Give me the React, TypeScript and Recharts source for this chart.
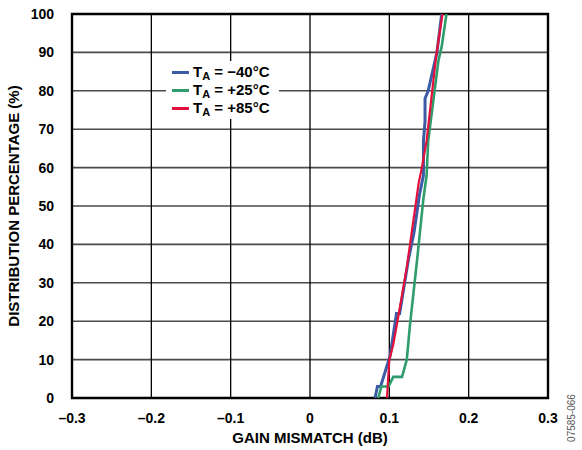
import { CartesianGrid, Line, LineChart, ReferenceArea, XAxis, YAxis } from "recharts";

// gain mismatch (dB) vs cumulative distribution (%)
const minus40X = [0.082, 0.085, 0.089, 0.101, 0.109, 0.113, 0.124, 0.128, 0.131, 0.138, 0.143, 0.143, 0.145, 0.145, 0.149, 0.16, 0.166];
const minus40Y = [0, 3, 3, 11, 22, 22, 36, 40, 43, 53, 58, 67, 72, 78, 80, 90, 100];
const plus25X = [0.086, 0.09, 0.099, 0.105, 0.116, 0.122, 0.126, 0.135, 0.143, 0.147, 0.149, 0.162, 0.166, 0.172];
const plus25Y = [0, 3, 3, 5.5, 5.5, 10, 19, 36, 52, 58, 67, 88, 91.5, 100];
const plus85X = [0.097, 0.1, 0.105, 0.112, 0.122, 0.137, 0.141, 0.147, 0.159, 0.167];
const plus85Y = [0, 10, 14, 22, 34, 56, 60, 67, 89, 100];

const xTicks = [-0.3, -0.2, -0.1, 0, 0.1, 0.2, 0.3];
const yTicks = [0, 10, 20, 30, 40, 50, 60, 70, 80, 90, 100];

const series = [
  { name: "\u221240\u00b0C", color: "#3b5ba5", width: 3, xs: minus40X, ys: minus40Y },
  { name: "+25\u00b0C", color: "#2f9c6c", width: 2.6, xs: plus25X, ys: plus25Y },
  { name: "+85\u00b0C", color: "#e3103c", width: 2.2, xs: plus85X, ys: plus85Y },
];

const font = "'Liberation Sans', Arial, sans-serif";
const tickStyle = { fontFamily: font, fontSize: 14, fontWeight: 700, fill: "#000" };
const titleStyle = { ...tickStyle, fontSize: 15 };

function toPoints(xs: number[], ys: number[]) {
  return xs.map((x, i) => ({ x, y: ys[i] }));
}

function fmtX(v: number) {
  if (v === 0) return "0";
  return v < 0 ? "\u2013" + Math.abs(v).toFixed(1) : v.toFixed(1);
}

export default function App() {
  return (
    <div style={{ position: "absolute", left: 0, top: 0, width: 582, height: 450, background: "#fff", fontFamily: font }}>
      <LineChart width={582} height={450} margin={{ top: 14, right: 34, bottom: 0, left: 0 }}>
        <CartesianGrid stroke="#4a4a4a" strokeWidth={1.6} vertical={false} />
        <CartesianGrid stroke="#000" strokeWidth={1.3} horizontal={false} />
        <XAxis
          type="number"
          dataKey="x"
          domain={[-0.3, 0.3]}
          ticks={xTicks}
          tickFormatter={fmtX}
          tick={tickStyle}
          tickLine={false}
          axisLine={false}
          height={52}
          tickMargin={9}
          allowDataOverflow
          label={{ value: "GAIN MISMATCH (dB)", position: "insideBottom", offset: 7, style: titleStyle }}
        />
        <YAxis
          type="number"
          domain={[0, 100]}
          ticks={yTicks}
          tick={tickStyle}
          tickLine={false}
          axisLine={false}
          width={72}
          tickMargin={12}
          label={{ value: "DISTRIBUTION PERCENTAGE (%)", angle: -90, position: "insideLeft", offset: 14, style: { ...titleStyle, textAnchor: "middle" } }}
        />
        <ReferenceArea x1={-0.3} x2={0.3} y1={0} y2={100} fill="none" stroke="#000" strokeWidth={2.4} />
        {series.map((s) => (
          <Line
            key={s.name}
            data={toPoints(s.xs, s.ys)}
            dataKey="y"
            type="linear"
            stroke={s.color}
            strokeWidth={s.width}
            dot={false}
            isAnimationActive={false}
          />
        ))}
      </LineChart>
      <div style={{ position: "absolute", left: 166, top: 61, width: 113, height: 56, background: "#fff", paddingTop: 2 }}>
        {series.map((s) => (
          <div key={s.name} style={{ display: "flex", alignItems: "center", height: 18, fontWeight: 700, fontSize: 15, lineHeight: "18px" }}>
            <span style={{ display: "inline-block", width: 17, height: 3, background: s.color, marginLeft: 6, marginRight: 4 }} />
            <span style={{ whiteSpace: "nowrap" }}>
              T<sub style={{ fontSize: 11, verticalAlign: -3, lineHeight: 0 }}>A</sub> = {s.name}
            </span>
          </div>
        ))}
      </div>
      <div
        style={{
          position: "absolute",
          left: 571,
          top: 418,
          transform: "translate(-50%, -50%) rotate(-90deg)",
          fontSize: 10,
          color: "#555",
          whiteSpace: "nowrap",
        }}
      >
        07585-066
      </div>
    </div>
  );
}
